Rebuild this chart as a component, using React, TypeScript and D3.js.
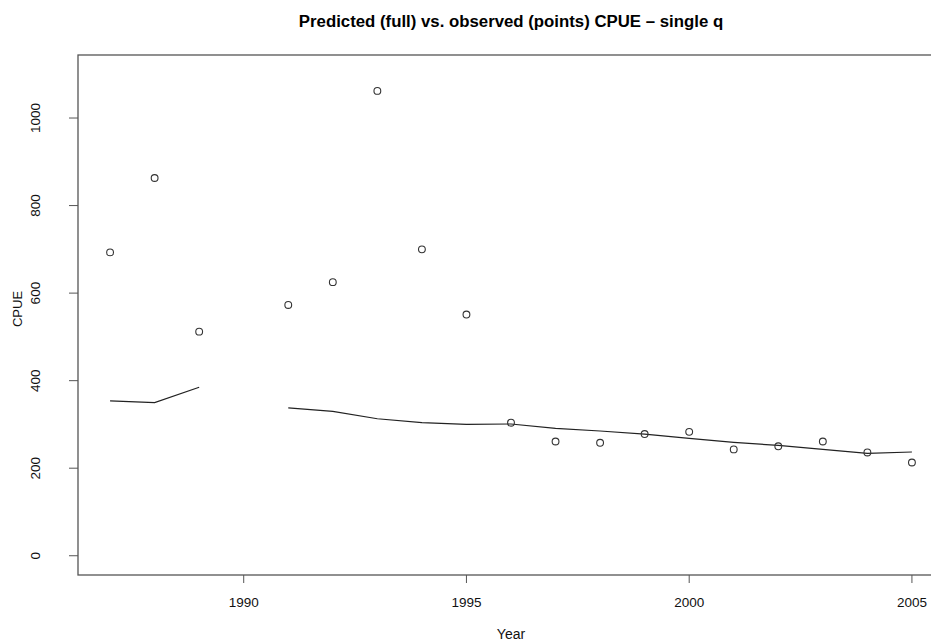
import React from "react";
import * as d3 from "d3";

const years = [1987, 1988, 1989, 1990, 1991, 1992, 1993, 1994, 1995, 1996, 1997, 1998, 1999, 2000, 2001, 2002, 2003, 2004, 2005];
const observed: (number | null)[] = [693, 863, 512, null, 573, 625, 1062, 700, 551, 304, 261, 258, 278, 283, 243, 250, 261, 236, 213];
const predicted: (number | null)[] = [354, 350, 385, null, 338, 330, 313, 304, 300, 301, 291, 285, 278, 268, 259, 252, 243, 234, 237];
const xTicks = [1990, 1995, 2000, 2005];
const yTicks = [0, 200, 400, 600, 800, 1000];

const W = 931;
const H = 641;
const font = "'Liberation Sans', Arial, Helvetica, sans-serif";

export default function App() {
  const x = d3.scaleLinear().domain([1986.28, 2005.72]).range([78, 944]);
  const y = d3.scaleLinear().domain([-44, 1144]).range([575, 55]);

  const pts = years.map((yr, i) => ({ yr, obs: observed[i], pred: predicted[i] }));
  const line = d3
    .line<{ yr: number; pred: number | null }>()
    .defined((d) => d.pred !== null)
    .x((d) => x(d.yr))
    .y((d) => y(d.pred as number));

  const [x0, x1] = x.range();
  const [yb, yt] = y.range();

  return (
    <svg width={W} height={H} style={{ position: "absolute", left: 0, top: 0, background: "#fff" }} fontFamily={font}>
      <rect x={0} y={0} width={W} height={H} fill="#fff" />
      <text x={(x0 + x1) / 2} y={27} textAnchor="middle" fontWeight="bold" fontSize={16.8} fill="#000">
        Predicted (full) vs. observed (points) CPUE – single q
      </text>
      {/* plot box */}
      <rect x={x0} y={yt} width={x1 - x0} height={yb - yt} fill="none" stroke="#555" strokeWidth={1.3} />
      {/* x axis */}
      {xTicks.map((t) => (
        <g key={t}>
          <line x1={x(t)} x2={x(t)} y1={yb} y2={yb + 8} stroke="#555" strokeWidth={1} />
          <text x={x(t)} y={607} textAnchor="middle" fontSize={13.5} fill="#111">
            {t}
          </text>
        </g>
      ))}
      {/* y axis */}
      {yTicks.map((t) => (
        <g key={t}>
          <line x1={x0 - 9} x2={x0} y1={y(t)} y2={y(t)} stroke="#555" strokeWidth={1} />
          <text transform={`translate(40,${y(t)}) rotate(-90)`} textAnchor="middle" fontSize={13.5} fill="#111">
            {t}
          </text>
        </g>
      ))}
      <text x={(x0 + x1) / 2} y={639} textAnchor="middle" fontSize={14} fill="#111">
        Year
      </text>
      <text transform={`translate(22,309) rotate(-90)`} textAnchor="middle" fontSize={13} fill="#111">
        CPUE
      </text>
      <path d={line(pts) || ""} fill="none" stroke="#222" strokeWidth={1.2} />
      {pts
        .filter((d) => d.obs !== null)
        .map((d) => (
          <circle key={d.yr} cx={x(d.yr)} cy={y(d.obs as number)} r={3.4} fill="none" stroke="#333" strokeWidth={1.1} />
        ))}
    </svg>
  );
}
